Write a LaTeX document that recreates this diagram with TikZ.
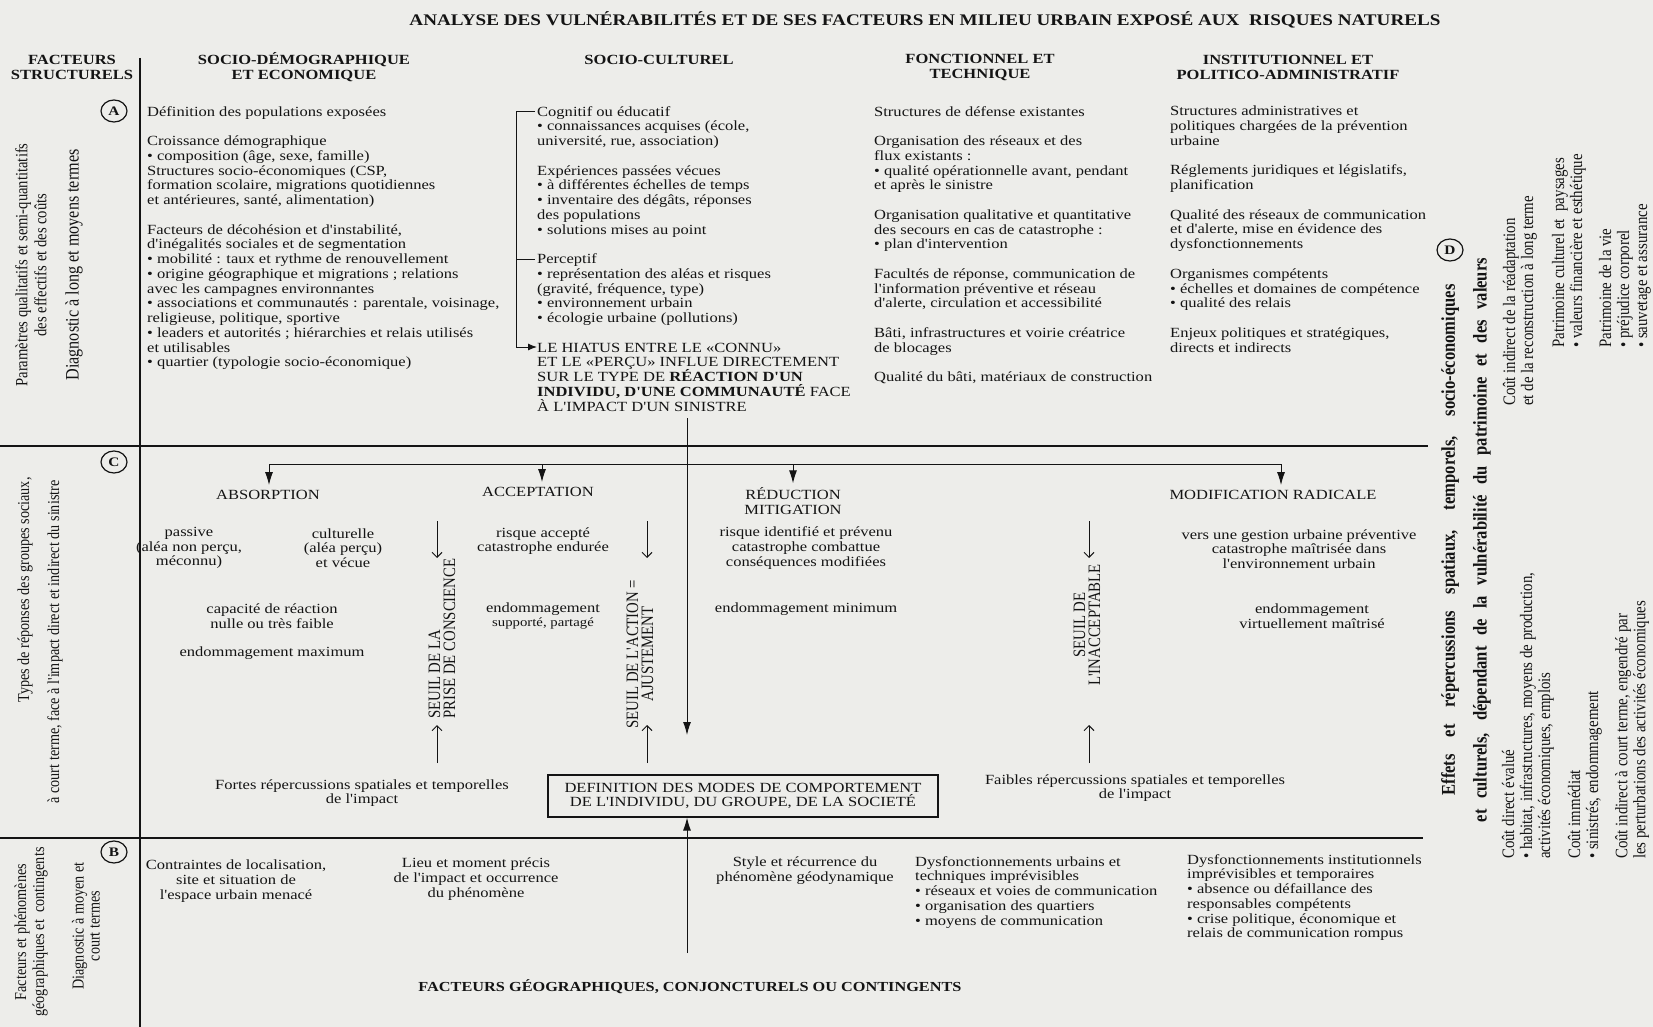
\documentclass[tikz,border=0pt]{standalone}
\usepackage{fontspec}
\setmainfont{Liberation Serif}
\newfontfamily\hf{Liberation Serif}[FakeStretch=1.18]
\newfontfamily\vf{Liberation Serif}[FakeStretch=0.85]
\usetikzlibrary{arrows.meta,shapes.geometric}
\definecolor{paper}{RGB}{237,237,234}
\definecolor{ink}{RGB}{20,20,20}
\lineskiplimit=-100pt
\newcommand\bodyfont{\hf\fontsize{14}{14.76}\selectfont\lineskiplimit=-100pt\relax}
\newcommand\hdfont{\hf\bfseries\fontsize{14}{15}\selectfont\lineskiplimit=-100pt\relax}
\newcommand\vtfont{\vf\fontsize{17.5}{18}\selectfont\lineskiplimit=-100pt\relax}
\begin{document}
\begin{tikzpicture}[x=1pt,y=-1pt,
  body/.style={inner sep=0pt,text=ink,font=\bodyfont},
  bl/.style={body,align=left,anchor=north west},
  bc/.style={body,align=center},
  hd/.style={inner sep=0pt,text=ink,font=\hdfont,align=center},
  vt/.style={inner sep=0pt,text=ink,rotate=90,font=\vtfont},
  circ/.style={ellipse,draw=ink,line width=1.2pt,minimum width=26pt,minimum height=22pt,inner sep=0pt,text=ink,font=\hf\bfseries\fontsize{13}{13}\selectfont},
  rule/.style={draw=ink,line width=1.2pt},
  ln/.style={draw=ink,line width=1pt},
  arr/.style={ln,-{Latex[length=13pt,width=8pt]}},
  varr/.style={ln,-{Straight Barb[length=5pt,width=10pt]}}
]
\fill[paper] (0,0) rectangle (1653,1027);
\useasboundingbox (0,0) rectangle (1653,1027);

% frame lines
\coordinate (vtop) at (140,58);
\coordinate (vbot) at (140,1027);
\coordinate (h1l) at (0,446);
\coordinate (h1r) at (1428,446);
\coordinate (h2l) at (0,838);
\coordinate (h2r) at (1423,838);
\draw[rule] (vtop) -- (vbot);
\draw[rule] (h1l) -- (h1r);
\draw[rule] (h2l) -- (h2r);

% title and headers
\node[inner sep=0pt,text=ink,font=\hf\bfseries\fontsize{16.2}{18}\selectfont] (title) at (925,20) {ANALYSE DES VULNÉRABILITÉS ET DE SES FACTEURS EN MILIEU URBAIN EXPOSÉ AUX~ RISQUES NATURELS};
\node[hd] (hfs) at (72,67.5) {FACTEURS\\STRUCTURELS};
\node[hd] (hsd) at (304,67.5) {SOCIO-DÉMOGRAPHIQUE\\ET ECONOMIQUE};
\node[hd] (hsc) at (659,60) {SOCIO-CULTUREL};
\node[hd] (hft) at (980,67.5) {FONCTIONNEL ET\\TECHNIQUE};
\node[hd] (hip) at (1288,67.5) {INSTITUTIONNEL ET\\POLITICO-ADMINISTRATIF};

% circles
\node[circ] (cA) at (114,111) {A};
\node[circ] (cC) at (114,462) {C};
\node[circ] (cB) at (114,852) {B};
\node[circ] (cD) at (1450,250) {D};

% left rotated labels
\node[vt,align=center,font=\vf\fontsize{17.2}{19}\selectfont] (lA1) at (31,265) {Paramètres qualitatifs et semi-quantitatifs\\des effectifs et des coûts};
\node[vt,font=\vf\fontsize{19}{19}\selectfont] (lA2) at (74,265) {Diagnostic à long et moyens termes};
\node[vt,font=\vf\fontsize{16.7}{19}\selectfont] (lC1) at (25,590) {Types de réponses des groupes sociaux,};
\node[vt,font=\vf\fontsize{16.7}{19}\selectfont] (lC2) at (55,642) {à court terme, face à l'impact direct et indirect du sinistre};
\node[vt,align=center,font=\vf\fontsize{16.7}{18}\selectfont] (lB1) at (31,932) {Facteurs et phénomènes\\géographiques et~ contingents};
\node[vt,align=center,font=\vf\fontsize{16.7}{16}\selectfont] (lB2) at (86,926) {Diagnostic à moyen et\\court termes};

% column A
\node[bl] (colA) at (147,106) {Définition des populations exposées\\[14.76pt]
Croissance démographique\\
• composition (âge, sexe, famille)\\
Structures socio-économiques (CSP,\\
formation scolaire, migrations quotidiennes\\
et antérieures, santé, alimentation)\\[14.76pt]
Facteurs de décohésion et d'instabilité,\\
d'inégalités sociales et de segmentation\\
• mobilité : taux et rythme de renouvellement\\
• origine géographique et migrations ; relations\\
avec les campagnes environnantes\\
• associations et communautés : parentale, voisinage,\\
religieuse, politique, sportive\\
• leaders et autorités ; hiérarchies et relais utilisés\\
et utilisables\\
• quartier (typologie socio-économique)};

% column B
\node[bl] (colB) at (537,106) {Cognitif ou éducatif\\
• connaissances acquises (école,\\
université, rue, association)\\[14.76pt]
Expériences passées vécues\\
• à différentes échelles de temps\\
• inventaire des dégâts, réponses\\
des populations\\
• solutions mises au point\\[14.76pt]
Perceptif\\
• représentation des aléas et risques\\
(gravité, fréquence, type)\\
• environnement urbain\\
• écologie urbaine (pollutions)\\[14.76pt]
LE HIATUS ENTRE LE «CONNU»\\
ET LE «PERÇU» INFLUE DIRECTEMENT\\
SUR LE TYPE DE \textbf{RÉACTION D'UN}\\
\textbf{INDIVIDU, D'UNE COMMUNAUTÉ} FACE\\
À L'IMPACT D'UN SINISTRE};
\coordinate (bt) at (516,112);
\coordinate (btr) at (535,112);
\coordinate (bm) at (516,259);
\coordinate (bmr) at (535,259);
\coordinate (bb) at (516,347);
\coordinate (bbr) at (537,347);
\draw[ln] (btr) -- (bt) -- (bb);
\draw[ln] (bm) -- (bmr);
\draw[ln,-{Latex[length=9pt,width=7pt]}] (bb) -- (bbr);

% column C
\node[bl] (colC) at (874,106) {Structures de défense existantes\\[14.76pt]
Organisation des réseaux et des\\
flux existants :\\
• qualité opérationnelle avant, pendant\\
et après le sinistre\\[14.76pt]
Organisation qualitative et quantitative\\
des secours en cas de catastrophe :\\
• plan d'intervention\\[14.76pt]
Facultés de réponse, communication de\\
l'information préventive et réseau\\
d'alerte, circulation et accessibilité\\[14.76pt]
Bâti, infrastructures et voirie créatrice\\
de blocages\\[14.76pt]
Qualité du bâti, matériaux de construction};

% column D
\node[bl] (colD) at (1170,106) {Structures administratives et\\
politiques chargées de la prévention\\
urbaine\\[14.76pt]
Réglements juridiques et législatifs,\\
planification\\[14.76pt]
Qualité des réseaux de communication\\
et d'alerte, mise en évidence des\\
dysfonctionnements\\[14.76pt]
Organismes compétents\\
• échelles et domaines de compétence\\
• qualité des relais\\[14.76pt]
Enjeux politiques et stratégiques,\\
directs et indirects};

% section C
\node[bc] (abs) at (268,495) {ABSORPTION};
\node[bc] (acc) at (538,492) {ACCEPTATION};
\node[bc] (red) at (793,501) {RÉDUCTION\\MITIGATION};
\node[bc] (mod) at (1273,495) {MODIFICATION RADICALE};
\coordinate (d1) at (269,464);
\coordinate (d2) at (542,464);
\coordinate (d3) at (793,464);
\coordinate (d4) at (1281,464);
\draw[ln] (d1) -- (d4);
\draw[arr,shorten >=5pt] (d1) -- (d1 |- abs.north);
\draw[arr,shorten >=5pt] (d2) -- (d2 |- acc.north);
\draw[arr,shorten >=4pt] (d3) -- (d3 |- red.north);
\draw[arr,shorten >=5pt] (d4) -- (d4 |- mod.north);

\coordinate (mtop) at (687,418);
\coordinate (mbot) at (687,735);
\draw[arr] (mtop) -- (mbot);

\node[bc] (pas) at (189,548) {passive\\(aléa non perçu,\\méconnu)};
\node[bc] (cul) at (343,548) {culturelle\\(aléa perçu)\\et vécue};
\node[bc] (cap) at (272,616) {capacité de réaction\\nulle ou très faible};
\node[bc] (emax) at (272,653) {endommagement maximum};
\node[bc] (racc) at (543,541) {risque accepté\\catastrophe endurée};
\node[bc] (esup) at (543,616) {endommagement\\{\fontsize{12.5}{14}\selectfont supporté, partagé}};
\node[bc] (rid) at (806,548) {risque identifié et prévenu\\catastrophe combattue\\conséquences modifiées};
\node[bc] (emin) at (806,609) {endommagement minimum};
\node[bc] (vers) at (1299,549) {vers une gestion urbaine préventive\\catastrophe maîtrisée dans\\l'environnement urbain};
\node[bc] (evir) at (1312,616) {endommagement\\virtuellement maîtrisé};

% thresholds
\node[vt,align=left,anchor=west,font=\vf\fontsize{17.4}{15}\selectfont] (s1) at (442,719) {SEUIL DE LA\\PRISE DE CONSCIENCE};
\node[vt,align=center,font=\vf\fontsize{17.4}{15}\selectfont] (s2) at (640,654) {SEUIL DE L'ACTION =\\AJUSTEMENT};
\node[vt,align=center,font=\vf\fontsize{17.4}{15}\selectfont] (s3) at (1087,625) {SEUIL DE\\L'INACCEPTABLE};
\coordinate (s1a) at (437,521); \coordinate (s1b) at (437,558);
\coordinate (s1c) at (437,763); \coordinate (s1d) at (437,725);
\coordinate (s2a) at (647,521); \coordinate (s2b) at (647,558);
\coordinate (s2c) at (647,763); \coordinate (s2d) at (647,725);
\coordinate (s3a) at (1089,521); \coordinate (s3b) at (1089,558);
\coordinate (s3c) at (1089,763); \coordinate (s3d) at (1089,725);
\draw[varr] (s1a) -- (s1b);
\draw[varr] (s1c) -- (s1d);
\draw[varr] (s2a) -- (s2b);
\draw[varr] (s2c) -- (s2d);
\draw[varr] (s3a) -- (s3b);
\draw[varr] (s3c) -- (s3d);

\node[bc] (fortes) at (362,793) {Fortes répercussions spatiales et temporelles\\de l'impact};
\node[bc] (faibles) at (1135,788) {Faibles répercussions spatiales et temporelles\\de l'impact};
\node[draw=ink,line width=1.1pt,minimum width=390pt,minimum height=42pt,inner sep=0pt] (box) at (743,796) {};
\node[bc] (boxt) at (box.center) {DEFINITION DES MODES DE COMPORTEMENT\\DE L'INDIVIDU, DU GROUPE, DE LA SOCIETÉ};
\coordinate (bst) at (687,953);
\draw[arr] (bst) -- (bst |- box.south);

% section B
\node[bc] (contr) at (236,881) {Contraintes de localisation,\\site et situation de\\l'espace urbain menacé};
\node[bc] (lieu) at (476,879) {Lieu et moment précis\\de l'impact et occurrence\\du phénomène};
\node[bc] (style) at (805,871) {Style et récurrence du\\phénomène géodynamique};
\node[bl] (dysu) at (915,856) {Dysfonctionnements urbains et\\
techniques imprévisibles\\
• réseaux et voies de communication\\
• organisation des quartiers\\
• moyens de communication};
\node[bl] (dysi) at (1187,854) {Dysfonctionnements institutionnels\\
imprévisibles et temporaires\\
• absence ou défaillance des\\
responsables compétents\\
• crise politique, économique et\\
relais de communication rompus};
\node[inner sep=0pt,text=ink,font=\hf\bfseries\fontsize{13.8}{15}\selectfont] (fgeo) at (690,987) {FACTEURS GÉOGRAPHIQUES, CONJONCTURELS OU CONTINGENTS};

% right D area
\node[vt,font=\vf\bfseries\fontsize{19.5}{18}\selectfont] (eff1) at (1450,540) {\makebox[511pt][s]{Effets et répercussions spatiaux, temporels, socio-économiques}};
\node[vt,font=\vf\bfseries\fontsize{19.5}{18}\selectfont] (eff2) at (1482,540) {\makebox[564pt][s]{et culturels, dépendant de la vulnérabilité du patrimoine et des valeurs}};
\node[vt,align=left,anchor=west] (r1) at (1520,406) {Coût indirect de la réadaptation\\et de la reconstruction à long terme};
\node[vt,align=left,anchor=west] (r2) at (1569,348) {Patrimoine culturel et~ paysages\\• valeurs financière et esthétique};
\node[vt,align=left,anchor=west] (r3) at (1625,348) {Patrimoine de la vie\\• préjudice corporel\\• sauvetage et assurance};
\node[vt,align=left,anchor=west] (r4) at (1528,859) {Coût direct évalué\\• habitat, infrastructures, moyens de production,\\activités économiques, emplois};
\node[vt,align=left,anchor=west] (r5) at (1585,859) {Coût immédiat\\• sinistrés, endommagement};
\node[vt,align=left,anchor=west] (r6) at (1632,859) {Coût indirect à court terme, engendré par\\les perturbations des activités économiques};
\end{tikzpicture}
\end{document}
